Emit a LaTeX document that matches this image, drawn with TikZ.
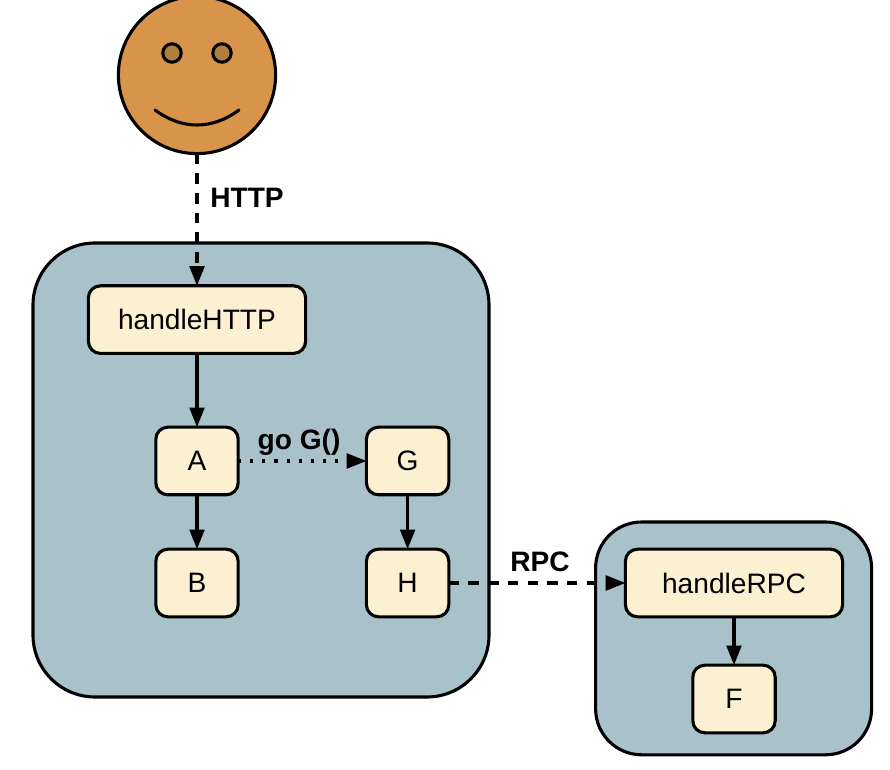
\documentclass[tikz,border=0pt]{standalone}
\usepackage{fontspec}
\setmainfont{Liberation Sans}
\usetikzlibrary{arrows.meta, positioning}
\definecolor{hostblue}{HTML}{A9C1C8}
\definecolor{funcyellow}{HTML}{FCF0D2}
\definecolor{faceorange}{HTML}{D9944C}
\definecolor{eyebrown}{HTML}{B27E3E}
\tikzset{
  line/.style={line width=2.2pt},
  host/.style={draw, line, fill=hostblue, outer sep=0pt},
  func/.style={draw, line, fill=funcyellow, rounded corners=0.3cm, minimum height=1.69cm, outer sep=0pt, font=\fontsize{20}{24}\selectfont},
  small/.style={func, minimum width=2.06cm},
  wide/.style={func, minimum width=5.43cm},
  call/.style={line, -{Triangle[length=14pt, width=10.5pt]}},
  remote/.style={call, dash pattern=on 7.5pt off 6.5pt},
  spawn/.style={call, dash pattern=on 2.2pt off 6.4pt},
  tag/.style={font=\fontsize{20}{24}\selectfont\bfseries}
}
\begin{document}
\begin{tikzpicture}
  \useasboundingbox (0, 0) rectangle (22.25, 19.25);
  % Face
  \node[draw, line, circle, fill=faceorange, minimum size=3.93cm, outer sep=0pt] (face) at (4.925, 17.375) {};
  \node[draw, line, circle, fill=eyebrown, minimum size=0.46cm] (eye_l) at (4.3, 17.925) {};
  \node[draw, line, circle, fill=eyebrown, minimum size=0.46cm] (eye_r) at (5.55, 17.925) {};
  \draw[line, line cap=round] (3.875, 16.5) .. controls (4.55, 16.0) and (5.3, 16.0) .. (5.975, 16.5);

  % Hosts
  \node[host, minimum width=11.4cm, minimum height=11.35cm, rounded corners=1.55cm] (host_http) at (6.525, 7.5) {};
  \node[host, minimum width=6.9cm, minimum height=5.82cm, rounded corners=1.15cm] (host_rpc) at (18.34, 3.29) {};

  % Functions
  \node[wide] (handleHTTP) at (4.925, 11.26) {handleHTTP};
  \node[small] (a) at (4.925, 7.725) {A};
  \node[small] (b) at (4.925, 4.675) {B};
  \node[small] (g) at (10.19, 7.725) {G};
  \node[small] (h) at (10.19, 4.675) {H};
  \node[wide] (handleRPC) at (18.35, 4.675) {handleRPC};
  \node[small] (f) at (18.35, 1.775) {F};

  \node[tag] (http) at (6.175, 14.3) {HTTP};
  \node[tag] (goG) at (7.475, 8.2) {go G()};
  \node[tag] (rpc) at (13.5, 5.2) {RPC};

  \draw[remote] (face) to (handleHTTP);
  \draw[call] (handleHTTP) to (a);
  \draw[call] (a) to (b);
  \draw[spawn] (a) to (g);
  \draw[call] (g) to (h);
  \draw[remote] (h) to (handleRPC);
  \draw[call] (handleRPC) to (f);

\end{tikzpicture}
\end{document}
